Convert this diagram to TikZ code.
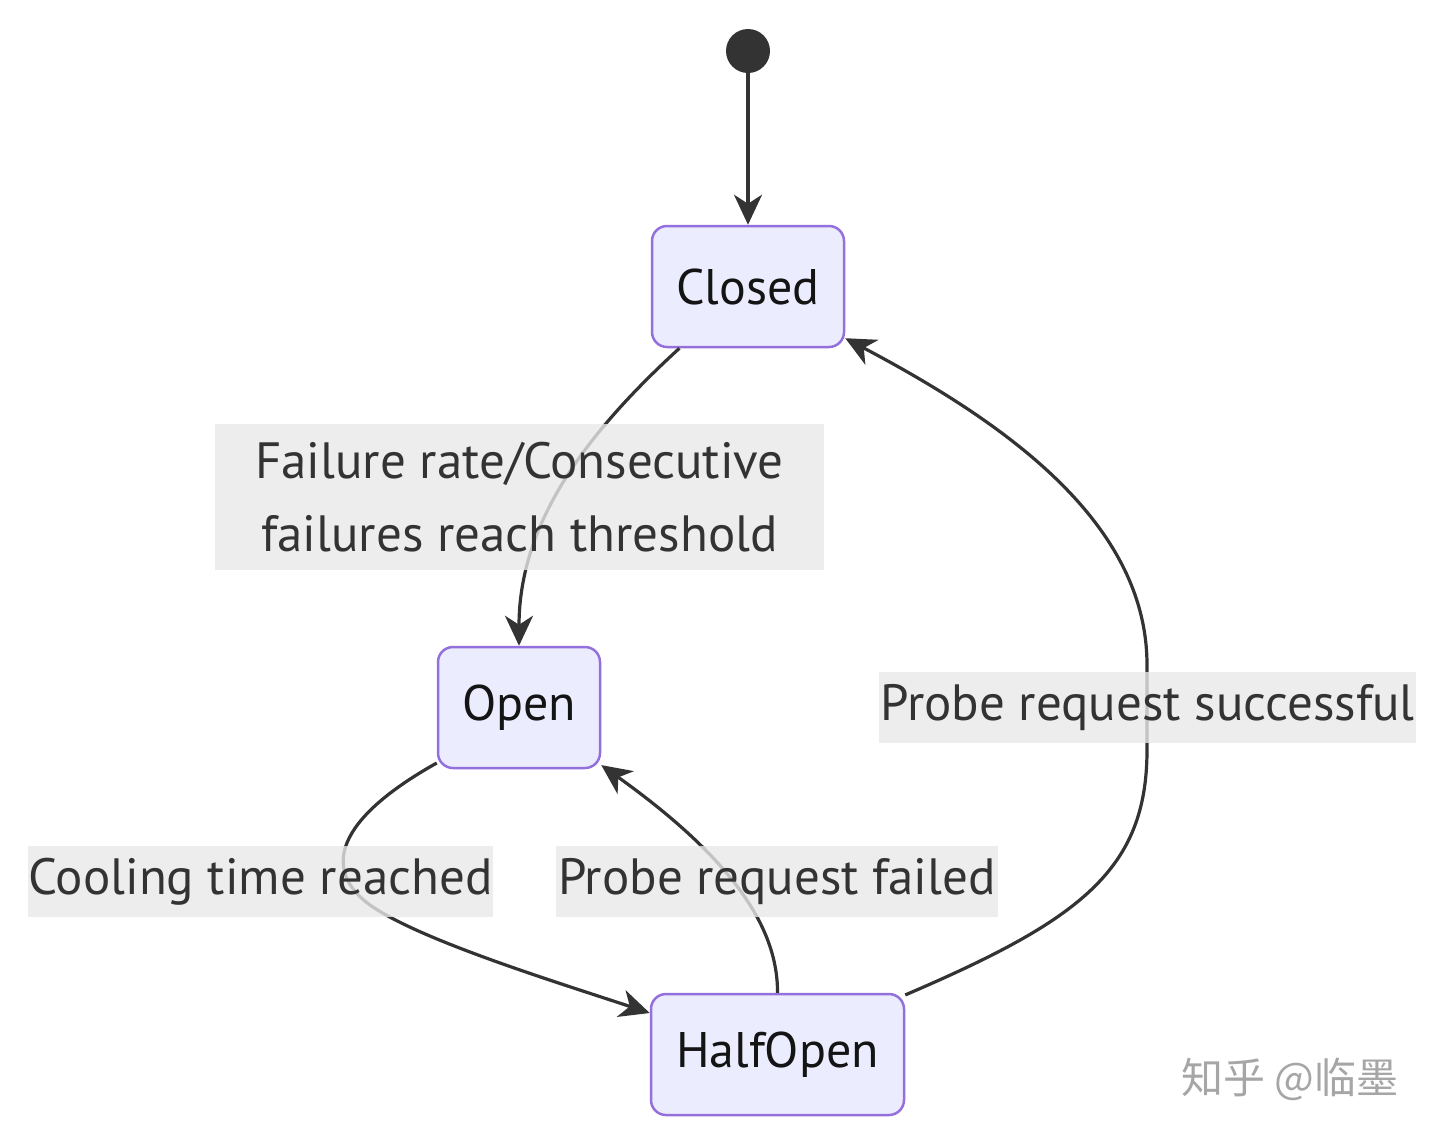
\documentclass[tikz,border=0pt]{standalone}
\usepackage{fontspec}
\setmainfont{PT Sans}
\newfontfamily\cjkfont{Noto Sans CJK SC}
\usetikzlibrary{arrows.meta}
\definecolor{statefill}{HTML}{ECECFF}
\definecolor{stateline}{HTML}{9370DB}
\definecolor{edgeline}{HTML}{333333}
\definecolor{labelfill}{HTML}{E8E8E8}

\begin{document}
\begin{tikzpicture}[x=0.5pt, y=-0.5pt,
  state/.style={draw=stateline, line width=1.25pt, fill=statefill, rounded corners=7.5pt,
    minimum height=60.5pt, font=\fontsize{25}{29}\selectfont, text=black!92},
  edge/.style={draw=edgeline, line width=1.6pt, -{Stealth[length=15pt, width=14pt, inset=4.5pt]}},
  elabel/.style={fill=labelfill, fill opacity=0.8, text opacity=1, text=edgeline, inner sep=0pt,
    minimum height=35.5pt, font=\fontsize{25.5}{36.5}\selectfont}]
\useasboundingbox (0,0) rectangle (1440,1137);

% states
\node[circle, fill=edgeline, minimum size=22pt, inner sep=0pt] (start) at (748,51) {};
\node[state, minimum width=96pt] (closed) at (748,286.5) {Closed};
\node[state, minimum width=81pt] (open) at (519,707.5) {Open};
\node[state, minimum width=126.5pt] (halfopen) at (777.5,1054.5) {HalfOpen};

% transitions
\draw[edge] (start) -- (closed.north);
\draw[edge] (closed.222) .. controls (590,430) and (519,520) .. (open.north);
\draw[edge] (open.214) .. controls (335,820) and (322,870) .. (370,905)
  .. controls (420,940) and (550,980) .. (halfopen.162);
\draw[edge] (halfopen.north) .. controls (778,920) and (720,850) .. (open.325);
\draw[edge] (halfopen.25) .. controls (1080,920) and (1147,870) .. (1147,750) -- (1147,665)
  .. controls (1147,520) and (1000,420) .. (closed.332);

% labels
\node[elabel, align=center, minimum width=304.5pt, minimum height=73pt] (tripped) at (519.5,497)
  {Failure rate/Consecutive\\ failures reach threshold};
\node[elabel, minimum width=232.5pt] (cooled) at (260.5,881.5) {Cooling time reached};
\node[elabel, minimum width=221pt] (failed) at (777,881.5) {Probe request failed};
\node[elabel, minimum width=268.5pt] (passed) at (1147.5,707.5) {Probe request successful};

\node[text=black!35, font=\cjkfont\fontsize{21}{21}\selectfont] (mark) at (1290,1079) {知乎 @临墨};
\end{tikzpicture}
\end{document}
